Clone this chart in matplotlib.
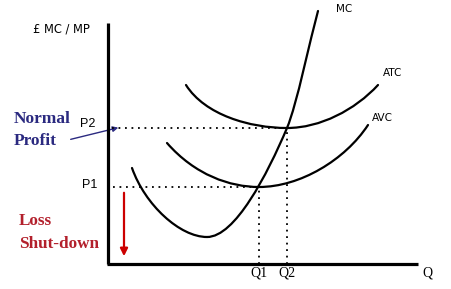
import matplotlib
matplotlib.use("Agg")
import matplotlib.pyplot as plt
from matplotlib.path import Path
from matplotlib.patches import PathPatch, FancyArrowPatch

# ---- data (economic diagram, in chart units: origin at axes corner) ----
P1, P2 = 77, 136
Q1, Q2 = 151, 179
price_labels = ["P1", "P2"]
qty_labels = ["Q1", "Q2"]

# cubic Bezier control points for each cost curve
mc_pts = [(24, 96), (37, 59), (72, 27), (99, 27),
          (127, 27), (159, 89), (Q2, P2),
          (189, 160), (202, 224), (210, 253)]
avc_pts = [(59, 121), (87, 89), (122, P1), (Q1, P1),
           (192, P1), (237, 104), (260, 139)]
atc_pts = [(78, 179), (97, 149), (142, P2), (Q2, P2),
           (212, P2), (247, 154), (270, 179)]
curve_names = ["MC", "ATC", "AVC"]

fig = plt.figure(figsize=(4.52, 2.89), dpi=100)
ax = fig.add_axes([0, 0, 1, 1])
ax.set_xlim(-108, 344)
ax.set_ylim(-25, 264)
ax.axis("off")

def bez(pts):
    codes = [Path.MOVETO] + [Path.CURVE4] * (len(pts) - 1)
    return PathPatch(Path(pts, codes), fill=False, lw=1.6, color="black",
                     capstyle="round")

for pts in (mc_pts, avc_pts, atc_pts):
    ax.add_patch(bez(pts))

# axes
ax.plot([0, 0], [0, 241], color="black", lw=2.3, solid_capstyle="butt")
ax.plot([-1, 310], [0, 0], color="black", lw=2.3, solid_capstyle="butt")

# dotted guide lines
dot = dict(color="black", lw=1.3, linestyle=(0, (1, 2.6)))
ax.plot([4, Q2], [P2, P2], **dot)
ax.plot([5, Q1], [P1, P1], **dot)
ax.plot([Q1, Q1], [0, P1], **dot)
ax.plot([Q2, Q2], [0, P2], **dot)

sans = "DejaVu Sans"
ax.text(228, 255, curve_names[0], fontsize=7.5, family=sans, va="center")
ax.text(275, 191, curve_names[1], fontsize=7.5, family=sans, va="center")
ax.text(264, 146, curve_names[2], fontsize=7.5, family=sans, va="center")
ax.text(-47, 235, "£ MC / MP", fontsize=8.3, family=sans, ha="center", va="center")
ax.text(-13, P2 + 4, price_labels[1], fontsize=9, family="Liberation Sans",
        ha="right", va="center")
ax.text(-11, P1 + 2, price_labels[0], fontsize=9, family="Liberation Sans",
        ha="right", va="center")
ax.text(Q1, -9, qty_labels[0], fontsize=10, family="Liberation Serif",
        ha="center", va="center")
ax.text(Q2, -9, qty_labels[1], fontsize=10, family="Liberation Serif",
        ha="center", va="center")
ax.text(319, -9, "Q", fontsize=10, family="Liberation Serif",
        ha="center", va="center")

blue = "#2b2a80"
red = "#b3202c"
ax.text(-94, 145, "Normal", fontsize=12.5, family="Liberation Serif",
        weight="bold", color=blue, va="center")
ax.text(-94, 123, "Profit", fontsize=12.5, family="Liberation Serif",
        weight="bold", color=blue, va="center")
ax.text(-89, 43, "Loss", fontsize=12.3, family="Liberation Serif",
        weight="bold", color=red, va="center")
ax.text(-89, 20, "Shut-down", fontsize=12.3, family="Liberation Serif",
        weight="bold", color=red, va="center")

ax.add_patch(FancyArrowPatch((-40, 124), (13, 137), arrowstyle="-|>",
                             mutation_scale=8, color=blue, lw=1.0))
ax.add_patch(FancyArrowPatch((16, 74), (16, 5), arrowstyle="-|>",
                             mutation_scale=11, color="#cc0000", lw=1.6))

fig.savefig("out.png", dpi=100)
